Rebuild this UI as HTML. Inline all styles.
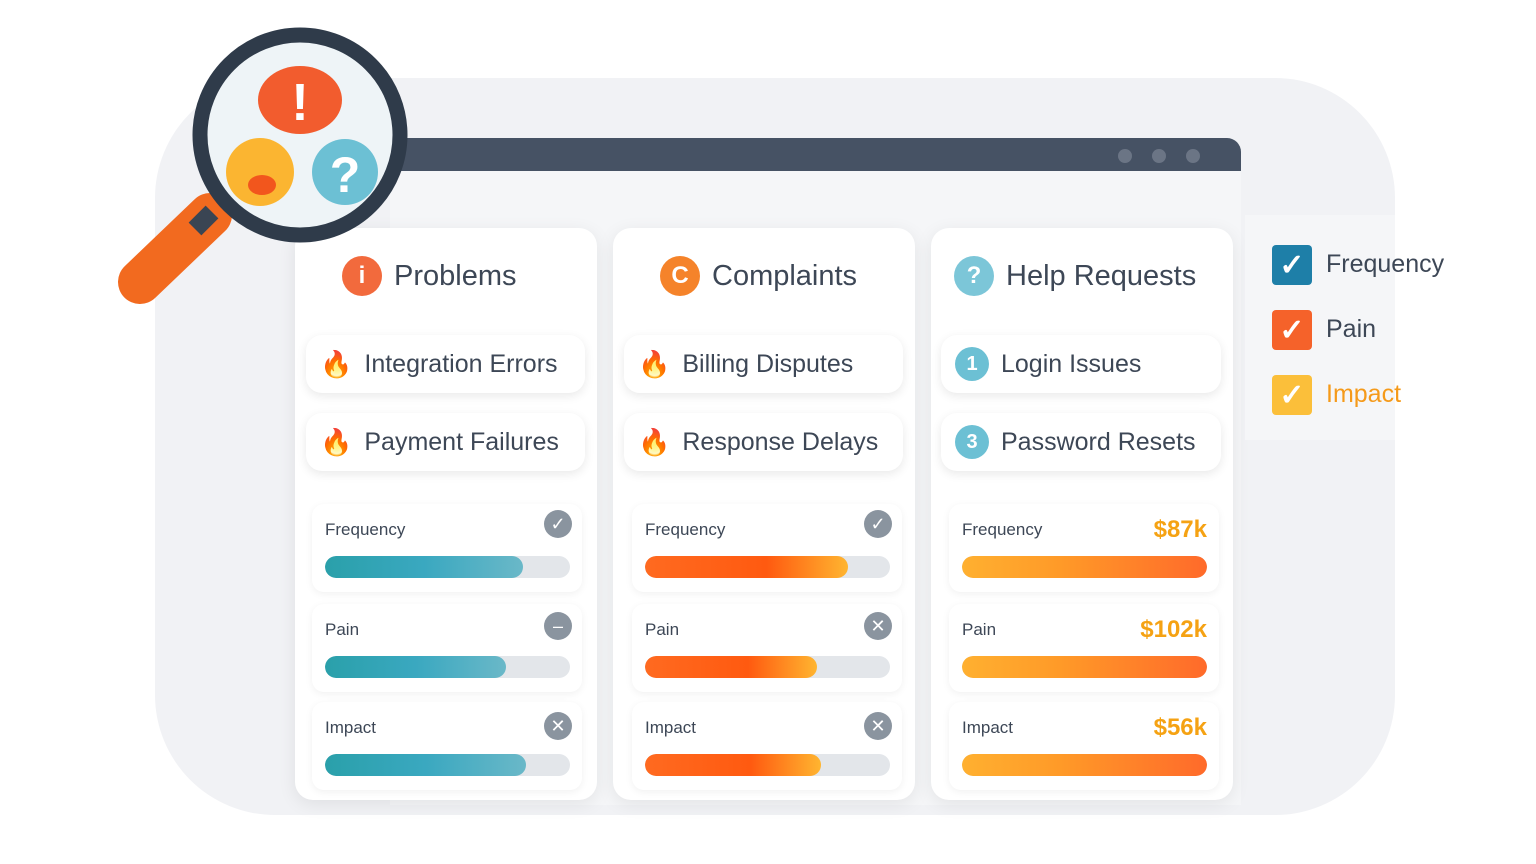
<!DOCTYPE html>
<html><head><meta charset="utf-8">
<style>
body{margin:0;width:1536px;height:864px;background:#fff;position:relative;overflow:hidden;font-family:"Liberation Sans",sans-serif;}
.abs{position:absolute}
.card{position:absolute;top:228px;width:302px;height:572px;background:#fff;border-radius:18px;box-shadow:0 4px 18px rgba(0,0,0,.08)}
.title{position:absolute;top:256px;font-size:29px;color:#3d4756;display:flex;align-items:center;gap:12px}
.ticon{width:40px;height:40px;border-radius:50%;color:#fff;font-weight:bold;font-size:24px;display:flex;align-items:center;justify-content:center}
.pill{position:absolute;width:279px;height:58px;background:#fff;border-radius:16px;box-shadow:0 3px 10px rgba(0,0,0,.09);display:flex;align-items:center;font-size:25px;color:#3d4756;gap:12px;box-sizing:border-box;padding-left:14px}
.flame{font-size:26px}
.num{width:34px;height:34px;border-radius:50%;background:#6cc0d4;color:#fff;font-weight:bold;font-size:20px;display:flex;align-items:center;justify-content:center}
.mbox{position:absolute;width:270px;height:88px;background:#fff;border-radius:12px;box-shadow:0 2px 8px rgba(0,0,0,.06)}
.mlabel{position:absolute;font-size:17px;color:#3d4756}
.track{position:absolute;height:22px;border-radius:11px;background:#e3e6ea;overflow:hidden}
.fill{position:absolute;left:0;top:0;height:22px;border-radius:11px}
.val{position:absolute;font-size:24px;font-weight:bold;color:#f5a213}
.mbtn{position:absolute;width:28px;height:28px;border-radius:50%;background:#8a949f;color:#fff;font-size:18px;display:flex;align-items:center;justify-content:center}
.cb{position:absolute;left:1272px;width:40px;height:40px;border-radius:4px;color:#fff;font-size:30px;font-weight:bold;display:flex;align-items:center;justify-content:center}
.lt{position:absolute;left:1326px;font-size:25px;color:#3d4756}
</style></head><body>
<div class="abs" style="left:155px;top:78px;width:1240px;height:737px;background:#f1f2f5;border-radius:120px"></div>
<div class="abs" style="left:390px;top:165px;width:851px;height:640px;background:#f5f6f8"></div>
<div class="abs" style="left:390px;top:138px;width:851px;height:33px;background:#465264;border-radius:14px 14px 0 0"></div>
<div class="abs" style="left:1118px;top:149px;width:14px;height:14px;border-radius:50%;background:#6b7585"></div>
<div class="abs" style="left:1152px;top:149px;width:14px;height:14px;border-radius:50%;background:#6b7585"></div>
<div class="abs" style="left:1186px;top:149px;width:14px;height:14px;border-radius:50%;background:#6b7585"></div>

<div class="card" style="left:295px"></div>
<div class="card" style="left:613px"></div>
<div class="card" style="left:931px"></div>

<div class="title" style="left:342px"><span class="ticon" style="background:#f26a3d">i</span>Problems</div>
<div class="title" style="left:660px"><span class="ticon" style="background:#f5832a">C</span>Complaints</div>
<div class="title" style="left:954px"><span class="ticon" style="background:#7cc6d8">?</span>Help Requests</div>

<div class="pill" style="left:306px;top:335px"><span class="flame">🔥</span>Integration Errors</div>
<div class="pill" style="left:306px;top:413px"><span class="flame">🔥</span>Payment Failures</div>
<div class="pill" style="left:624px;top:335px"><span class="flame">🔥</span>Billing Disputes</div>
<div class="pill" style="left:624px;top:413px"><span class="flame">🔥</span>Response Delays</div>
<div class="pill" style="left:941px;top:335px;width:280px"><span class="num">1</span>Login Issues</div>
<div class="pill" style="left:941px;top:413px;width:280px"><span class="num">3</span>Password Resets</div>

<div id="metrics"></div>

<div class="abs" style="left:1245px;top:215px;width:150px;height:225px;background:#f5f6f8"></div>
<div class="cb" style="top:245px;background:#1e7fa8">✓</div>
<div class="lt" style="top:250px">Frequency</div>
<div class="cb" style="top:310px;background:#f5622a">✓</div>
<div class="lt" style="top:315px">Pain</div>
<div class="cb" style="top:375px;background:#fbbf3a">✓</div>
<div class="lt" style="top:380px;color:#f59a1a">Impact</div>

<svg class="abs" style="left:100px;top:20px" width="320" height="300">
<line x1="110" y1="195" x2="40" y2="262" stroke="#f26a1f" stroke-width="44" stroke-linecap="round"/>
<line x1="112" y1="192" x2="95" y2="209" stroke="#3a4553" stroke-width="18"/>
<circle cx="200" cy="115" r="100" fill="#eef4f7" stroke="#2f3b4a" stroke-width="15"/>
<ellipse cx="200" cy="80" rx="42" ry="34" fill="#f25c2e"/>
<text x="200" y="100" text-anchor="middle" font-size="52" font-weight="bold" fill="#fff" font-family="Liberation Sans">!</text>
<circle cx="160" cy="152" r="34" fill="#fbb531"/>
<ellipse cx="162" cy="165" rx="14" ry="10" fill="#f2561d"/>
<circle cx="245" cy="152" r="33" fill="#6cc0d4"/>
<text x="245" y="172" text-anchor="middle" font-size="50" font-weight="bold" fill="#fff" font-family="Liberation Sans">?</text>
</svg>

<script>
const metrics=["Frequency","Pain","Impact"];
const problemsValues=[0.81,0.74,0.82];
const complaintsValues=[0.83,0.70,0.72];
const helpValues=[1.0,1.0,1.0];
const helpLabels=["$87k","$102k","$56k"];
const cols=[
 {x:325,vals:problemsValues,grad:"linear-gradient(90deg,#2aa0aa,#3aa8c0 50%,#6ab8c8)",btn:["✓","–","✕"]},
 {x:645,vals:complaintsValues,grad:"linear-gradient(90deg,#ff6a20,#ff5a10 60%,#ffb530)",btn:["✓","✕","✕"]},
 {x:962,vals:helpValues,grad:"linear-gradient(90deg,#ffb030,#ff9a28 40%,#ff6a2a)",btn:null}
];
const rowY=[520,620,718];
const M=document.getElementById('metrics');
cols.forEach((c,ci)=>{
 metrics.forEach((m,ri)=>{
  const bx=document.createElement('div');bx.className='mbox';
  
  
  bx.style.left=(c.x-13)+'px';bx.style.top=(rowY[ri]-16)+'px';M.appendChild(bx);
  const l=document.createElement('div');l.className='mlabel';
  
  
  l.style.left=c.x+'px';l.style.top=rowY[ri]+'px';l.textContent=m;M.appendChild(l);
  const t=document.createElement('div');t.className='track';
  
  
  t.style.left=c.x+'px';t.style.top=(rowY[ri]+36)+'px';t.style.width='245px';
  const f=document.createElement('div');f.className='fill';
  
  
  f.style.width=(c.vals[ri]*245)+'px';f.style.background=c.grad;
  t.appendChild(f);M.appendChild(t);
  if(c.btn){
   const b=document.createElement('div');b.className='mbtn';
   
   
   b.style.left=(c.x+219)+'px';b.style.top=(rowY[ri]-10+ri*2)+'px';b.textContent=c.btn[ri];M.appendChild(b);
  } else {
   const v=document.createElement('div');v.className='val';
   
   
   v.style.right=(1536-1207)+'px';v.style.top=(rowY[ri]-4)+'px';v.textContent=helpLabels[ri];M.appendChild(v);
  }
 });
});
</script>
</body></html>
